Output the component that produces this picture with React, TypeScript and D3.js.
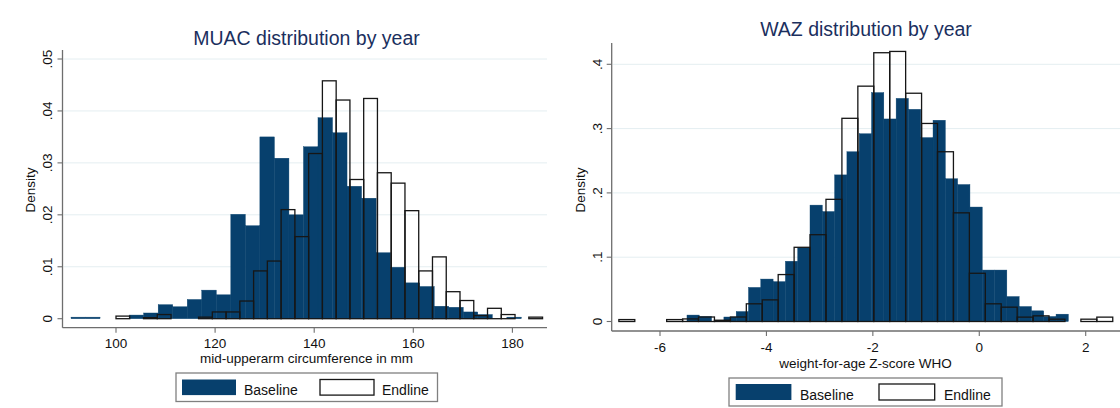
import * as d3 from 'd3';
import { useEffect, useRef } from 'react';

// MUAC (left panel): density per bin, bins start at *Start and are *Width wide
const muacBaseStart = 90.92;
const muacBaseWidth = 2.932;
const muacBaseline = [
    0.0003, 0.0003, 0, 0, 0.0007, 0.0011, 0.0027, 0.0023, 0.0037, 0.0055,
    0.0046, 0.0201, 0.0179, 0.035, 0.0309, 0.02, 0.0331, 0.0387, 0.0358, 0.0255,
    0.0232, 0.0127, 0.0099, 0.0069, 0.0062, 0.0024, 0.0022, 0.0013, 0.0008, 0, 0.0003,
];
const muacEndStart = 100;
const muacEndWidth = 2.777;
const muacEndline = [
    0.0005, 0, 0.0002, 0.0008, 0, 0, 0.0003, 0.0013, 0.0013, 0.0034,
    0.0092, 0.0111, 0.021, 0.0158, 0.0318, 0.0458, 0.0421, 0.0268, 0.0424, 0.0281,
    0.0261, 0.0208, 0.0092, 0.0119, 0.0052, 0.0035, 0.0006, 0.002, 0.0008, 0, 0.0003,
];
const muacXTicks = [100, 120, 140, 160, 180];
const muacYTicks = [0, 0.01, 0.02, 0.03, 0.04, 0.05];

// WAZ (right panel)
const wazBaseStart = -5.493;
const wazBaseWidth = 0.2312;
const wazBaseline = [
    0.01, 0.0078, 0, 0.007, 0.0155, 0.053, 0.066, 0.062, 0.0937, 0.1145,
    0.181, 0.171, 0.228, 0.264, 0.292, 0.356, 0.315, 0.347, 0.33, 0.286,
    0.313, 0.222, 0.213, 0.178, 0.08, 0.08, 0.0388, 0.0233, 0.0166, 0.0078, 0.0114,
];
const wazEndStart = -6.773;
const wazEndWidth = 0.2994;
const wazEndline = [
    0.003, 0, 0, 0.003, 0.004, 0.007, 0.002, 0.007, 0.0275, 0.0336,
    0.073, 0.1154, 0.135, 0.19, 0.316, 0.366, 0.418, 0.42, 0.355, 0.308,
    0.264, 0.169, 0.075, 0.0275, 0.0223, 0.0068, 0.0088, 0.0036, 0, 0.0036, 0.0068,
];
const wazXTicks = [-6, -4, -2, 0, 2];
const wazYTicks = [0, 0.1, 0.2, 0.3, 0.4];

const legendLabels = ["Baseline", "Endline"];

const NAVY = "#07406d";
const FONT = "'Liberation Sans', Arial, Helvetica, sans-serif";

interface Panel {
    title: string;
    xLabel: string;
    baseline: number[];
    baseStart: number;
    baseWidth: number;
    endline: number[];
    endStart: number;
    endWidth: number;
    xTicks: number[];
    yTicks: number[];
    xDomain: [number, number];
    xRange: [number, number];
    yDomain: [number, number];
    yRange: [number, number];
    axisX: number;     // y axis line position
    axisY: number;     // x axis line position
    plotTop: number;
    plotRight: number;
    titleX: number;
    titleY: number;
    tickLabelY: number;
    xLabelX: number;
    xLabelY: number;
    yTickLabelX: number;
    densityX: number;
    densityY: number;
    legend: { x: number; y: number; w: number; h: number; sw: number; sh: number; sx1: number; tx1: number; sx2: number; tx2: number; sy: number; ty: number };
}

const fmtTick = (v: number) => (v === 0 ? "0" : String(v).replace(/^0/, ""));

const drawPanel = (root: d3.Selection<SVGSVGElement, unknown, null, undefined>, p: Panel) => {
    const g = root.append("g");
    const x = d3.scaleLinear().domain(p.xDomain).range(p.xRange);
    const y = d3.scaleLinear().domain(p.yDomain).range(p.yRange);

    // gridlines
    g.selectAll(".grid")
        .data(p.yTicks.filter(t => t > 0))
        .enter().append("line")
        .attr("x1", p.axisX + 1)
        .attr("x2", p.plotRight)
        .attr("y1", d => y(d))
        .attr("y2", d => y(d))
        .attr("stroke", "#e4eef1")
        .attr("stroke-width", 1);

    const binsOf = (vals: number[], start: number, width: number) =>
        vals.map((v, i) => ({ x0: start + i * width, x1: start + (i + 1) * width, v }))
            .filter(b => b.v > 0);

    // baseline bars (filled)
    g.selectAll(".base")
        .data(binsOf(p.baseline, p.baseStart, p.baseWidth))
        .enter().append("rect")
        .attr("x", d => x(d.x0))
        .attr("width", d => x(d.x1) - x(d.x0))
        .attr("y", d => y(d.v))
        .attr("height", d => y(0) - y(d.v))
        .attr("fill", NAVY)
        .attr("stroke", NAVY)
        .attr("stroke-width", 0.4);

    // endline bars (outline only)
    g.selectAll(".end")
        .data(binsOf(p.endline, p.endStart, p.endWidth))
        .enter().append("rect")
        .attr("x", d => x(d.x0))
        .attr("width", d => x(d.x1) - x(d.x0))
        .attr("y", d => y(d.v))
        .attr("height", d => Math.max(y(0) - y(d.v), 0.5))
        .attr("fill", "none")
        .attr("stroke", "#161616")
        .attr("stroke-width", 1.3);

    // axes lines
    g.append("line")
        .attr("x1", p.axisX).attr("x2", p.axisX)
        .attr("y1", p.plotTop).attr("y2", p.axisY)
        .attr("stroke", "#6e6e6e").attr("stroke-width", 1.3);
    g.append("line")
        .attr("x1", p.axisX).attr("x2", p.plotRight)
        .attr("y1", p.axisY).attr("y2", p.axisY)
        .attr("stroke", "#6e6e6e").attr("stroke-width", 1.3);

    // x ticks + labels
    g.selectAll(".xt")
        .data(p.xTicks)
        .enter().append("line")
        .attr("x1", d => x(d)).attr("x2", d => x(d))
        .attr("y1", p.axisY).attr("y2", p.axisY + 5)
        .attr("stroke", "#6e6e6e").attr("stroke-width", 1.1);
    g.selectAll(".xl")
        .data(p.xTicks)
        .enter().append("text")
        .attr("x", d => x(d))
        .attr("y", p.tickLabelY)
        .attr("text-anchor", "middle")
        .style("font-family", FONT)
        .style("font-size", "13.5px")
        .attr("fill", "#111")
        .text(d => String(d));

    // y ticks + rotated labels
    g.selectAll(".yt")
        .data(p.yTicks)
        .enter().append("line")
        .attr("x1", p.axisX - 5).attr("x2", p.axisX)
        .attr("y1", d => y(d)).attr("y2", d => y(d))
        .attr("stroke", "#6e6e6e").attr("stroke-width", 1.1);
    g.selectAll(".yl")
        .data(p.yTicks)
        .enter().append("text")
        .attr("transform", d => `translate(${p.yTickLabelX},${y(d)}) rotate(-90)`)
        .attr("text-anchor", "middle")
        .style("font-family", FONT)
        .style("font-size", "13.5px")
        .attr("fill", "#111")
        .text(d => fmtTick(d));

    g.append("text")
        .attr("transform", `translate(${p.densityX},${p.densityY}) rotate(-90)`)
        .attr("text-anchor", "middle")
        .style("font-family", FONT)
        .style("font-size", "13.5px")
        .attr("fill", "#111")
        .text("Density");

    g.append("text")
        .attr("x", p.xLabelX)
        .attr("y", p.xLabelY)
        .attr("text-anchor", "middle")
        .style("font-family", FONT)
        .style("font-size", "13.5px")
        .attr("fill", "#111")
        .text(p.xLabel);

    g.append("text")
        .attr("x", p.titleX)
        .attr("y", p.titleY)
        .attr("text-anchor", "middle")
        .style("font-family", FONT)
        .style("font-size", "19.5px")
        .attr("fill", "#1b2f5e")
        .text(p.title);

    // legend
    const L = p.legend;
    const lg = g.append("g");
    lg.append("rect")
        .attr("x", L.x).attr("y", L.y).attr("width", L.w).attr("height", L.h)
        .attr("fill", "#fff").attr("stroke", "#808080").attr("stroke-width", 1.3);
    lg.append("rect")
        .attr("x", L.sx1).attr("y", L.sy).attr("width", L.sw).attr("height", L.sh)
        .attr("fill", NAVY);
    lg.append("rect")
        .attr("x", L.sx2).attr("y", L.sy).attr("width", L.sw).attr("height", L.sh)
        .attr("fill", "#fff").attr("stroke", "#161616").attr("stroke-width", 1.3);
    lg.selectAll(".lt")
        .data(legendLabels)
        .enter().append("text")
        .attr("x", (_, i) => (i === 0 ? L.tx1 : L.tx2))
        .attr("y", L.ty)
        .style("font-family", FONT)
        .style("font-size", "14px")
        .attr("fill", "#111")
        .text(d => d);
};

const muacPanel: Panel = {
    title: "MUAC distribution by year",
    xLabel: "mid-upperarm circumference in mm",
    baseline: muacBaseline, baseStart: muacBaseStart, baseWidth: muacBaseWidth,
    endline: muacEndline, endStart: muacEndStart, endWidth: muacEndWidth,
    xTicks: muacXTicks, yTicks: muacYTicks,
    xDomain: [100, 180], xRange: [116, 512.4],
    yDomain: [0, 0.05], yRange: [318.7, 59],
    axisX: 62.5, axisY: 327.7, plotTop: 50, plotRight: 547,
    titleX: 306.5, titleY: 45, tickLabelY: 347.5, xLabelX: 306.5, xLabelY: 362.5,
    yTickLabelX: 51.5, densityX: 35, densityY: 190,
    legend: { x: 176, y: 373, w: 261.5, h: 28.5, sw: 54, sh: 15.6, sx1: 182, tx1: 244, sx2: 320, tx2: 382, sy: 379.5, ty: 394.5 },
};

const wazPanel: Panel = {
    title: "WAZ distribution by year",
    xLabel: "weight-for-age Z-score WHO",
    baseline: wazBaseline, baseStart: wazBaseStart, baseWidth: wazBaseWidth,
    endline: wazEndline, endStart: wazEndStart, endWidth: wazEndWidth,
    xTicks: wazXTicks, yTicks: wazYTicks,
    xDomain: [-6, 2], xRange: [660, 1085.7],
    yDomain: [0, 0.4], yRange: [321.5, 64.3],
    axisX: 611.7, axisY: 331, plotTop: 43, plotRight: 1120,
    titleX: 866, titleY: 36, tickLabelY: 351.5, xLabelX: 865.6, xLabelY: 367.5,
    yTickLabelX: 602, densityX: 585, densityY: 190,
    legend: { x: 729, y: 378, w: 273, h: 28, sw: 55.7, sh: 16, sx1: 735.7, tx1: 800, sx2: 879, tx2: 944, sy: 384, ty: 399.5 },
};

export default function App() {
    const ref = useRef<SVGSVGElement | null>(null);

    useEffect(() => {
        if (!ref.current) return;
        const svg = d3.select(ref.current);
        svg.selectAll("*").remove();
        svg.append("rect").attr("width", 1120).attr("height", 408).attr("fill", "#fff");
        drawPanel(svg, muacPanel);
        drawPanel(svg, wazPanel);
    }, []);

    return (
        <svg
            ref={ref}
            width={1120}
            height={408}
            style={{ position: "absolute", left: 0, top: 0, display: "block" }}
        />
    );
}
